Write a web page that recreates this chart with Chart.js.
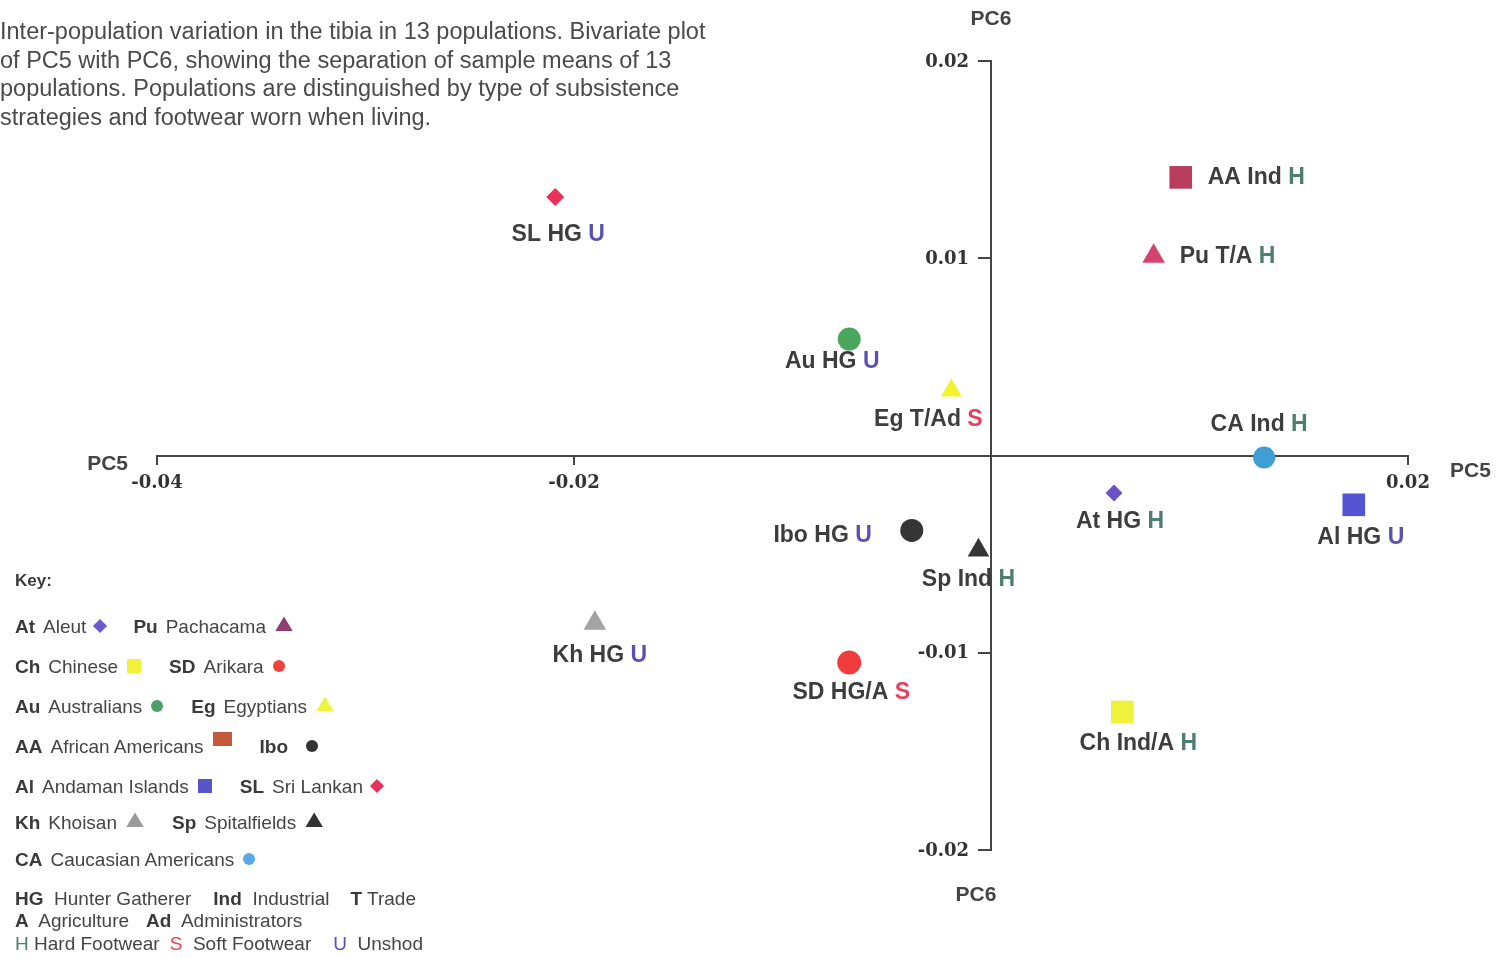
<!DOCTYPE html>
<html>
<head>
<meta charset="utf-8">
<script src="https://cdn.jsdelivr.net/npm/chart.js@4.4.1/dist/chart.umd.min.js"></script>
<style>
  body { margin: 0; background: #fff; }
  #wrap { position: relative; width: 1501px; height: 958px; overflow: hidden; background: #fff; }
  #chart { position: absolute; left: 0; top: 0; }
  #caption {
    position: absolute; left: 0; top: 17px;
    font: 23.5px "Liberation Sans", Arial, sans-serif;
    line-height: 28.5px; color: #4a4a4a; white-space: nowrap;
  }
  #key { position: absolute; left: 15px; top: 0; font: 19px "Liberation Sans", Arial, sans-serif; color: #454545; }
  .row { position: absolute; left: 0; white-space: nowrap; height: 22px; line-height: 22px; }
  .row b { font-weight: bold; color: #3a3a3a; }
  .mk { display: inline-block; vertical-align: middle; position: relative; top: -2px; }
  .gap { display: inline-block; }
</style>
</head>
<body>
<div id="wrap">
  <canvas id="chart" width="1501" height="958"></canvas>
  <div id="caption">
    Inter-population variation in the tibia in 13 populations. Bivariate plot<br>
    of PC5 with PC6, showing the separation of sample means of 13<br>
    populations. Populations are distinguished by type of subsistence<br>
    strategies and footwear worn when living.
  </div>
  <div id="key"></div>
</div>
<script>
// population means on PC5 / PC6
const codes = ['SL', 'AA', 'Pu', 'Au', 'Eg', 'CA', 'At', 'Al', 'Ibo', 'Sp', 'Kh', 'SD', 'Ch'];
const pc5 = [-0.0209, 0.0091, 0.0078, -0.0068, -0.0019, 0.0131, 0.0059, 0.0174, -0.0038, -0.0006, -0.0190, -0.0068, 0.0063];
const pc6 = [0.0131, 0.0141, 0.0101, 0.0059, 0.0033, -0.0001, -0.0019, -0.0025, -0.0038, -0.0048, -0.0085, -0.0105, -0.0130];
const economy = ['HG', 'Ind', 'T/A', 'HG', 'T/Ad', 'Ind', 'HG', 'HG', 'HG', 'Ind', 'HG', 'HG/A', 'Ind/A'];
const footwear = ['U', 'H', 'H', 'U', 'S', 'H', 'H', 'U', 'U', 'H', 'U', 'S', 'H'];

const xTicks = [-0.04, -0.02, 0.02];
const yTicks = [-0.02, -0.01, 0.01, 0.02];

const keyRows = [
  [['At', 'Aleut'], ['Pu', 'Pachacama']],
  [['Ch', 'Chinese'], ['SD', 'Arikara']],
  [['Au', 'Australians'], ['Eg', 'Egyptians']],
  [['AA', 'African Americans'], ['Ibo', '']],
  [['Al', 'Andaman Islands'], ['SL', 'Sri Lankan']],
  [['Kh', 'Khoisan'], ['Sp', 'Spitalfields']],
  [['CA', 'Caucasian Americans']]
];

// styles
const markStyle = {
  SL:  {shape: 'rectRot',  r: 9,    color: '#e8325c', key: '#e8325c'},
  AA:  {shape: 'rect',     r: 16,   color: '#b73c5e', key: '#c45a3c'},
  Pu:  {shape: 'triangle', r: 13,   color: '#d2436f', key: '#8c3f70'},
  Au:  {shape: 'circle',   r: 11.5, color: '#4aa65c', key: '#4aa065'},
  Eg:  {shape: 'triangle', r: 12,   color: '#f2f22e', key: '#eef540'},
  CA:  {shape: 'circle',   r: 11,   color: '#3f9fd4', key: '#5aa8e6'},
  At:  {shape: 'rectRot',  r: 8.5,  color: '#6b52c9', key: '#6b5ad0'},
  Al:  {shape: 'rect',     r: 16,   color: '#5454d2', key: '#5656c8'},
  Ibo: {shape: 'circle',   r: 11.5, color: '#353535', key: '#333333'},
  Sp:  {shape: 'triangle', r: 12.5, color: '#353535', key: '#333333'},
  Kh:  {shape: 'triangle', r: 13,   color: '#a3a3a3', key: '#999999'},
  SD:  {shape: 'circle',   r: 12,   color: '#f03c3c', key: '#f04040'},
  Ch:  {shape: 'rect',     r: 16,   color: '#eef23a', key: '#f2f23a'}
};
const footColor = {H: '#4f7d6e', U: '#5a50b4', S: '#e8405a'};
// label placement relative to each marker: [align, dx, dy]
const labelPlace = {
  SL: ['center', 3, 38], AA: ['left', 27, 0], Pu: ['left', 26, 0], Au: ['center', -17, 23],
  Eg: ['center', -23, 29], CA: ['center', -5, -33], At: ['center', 6, 29], Al: ['center', 7, 33],
  Ibo: ['right', -40, 5], Sp: ['center', -10, 29], Kh: ['center', 5, 32], SD: ['center', 2, 30],
  Ch: ['center', 16, 32]
};

// key (legend) built from the arrays above
function keyMarker(code) {
  const s = markStyle[code];
  const el = document.createElement('span');
  el.className = 'mk';
  el.style.background = s.key;
  if (s.shape === 'circle') { el.style.width = '12px'; el.style.height = '12px'; el.style.borderRadius = '50%'; }
  else if (s.shape === 'rect') {
    el.style.width = code === 'AA' ? '19px' : '14px';
    el.style.height = '14px';
    if (code === 'AA') el.style.top = '-9px';
  }
  else if (s.shape === 'rectRot') { el.style.width = '10px'; el.style.height = '10px'; el.style.transform = 'rotate(45deg)'; }
  else { el.style.width = '18px'; el.style.height = '15px'; el.style.clipPath = 'polygon(50% 0, 100% 100%, 0 100%)'; el.style.top = '-4px'; }
  return el;
}
const keyEl = document.getElementById('key');
const rowY = [627, 667, 707, 747, 787, 823, 860];
const head = document.createElement('div');
head.className = 'row'; head.style.top = (580 - 11) + 'px';
head.innerHTML = '<b style="font-size:17px">Key:</b>';
keyEl.appendChild(head);
keyRows.forEach((row, r) => {
  const div = document.createElement('div');
  div.className = 'row';
  div.style.top = (rowY[r] - 11) + 'px';
  row.forEach(([code, name]) => {
    const b = document.createElement('b');
    b.textContent = code;
    div.appendChild(b);
    const t = document.createElement('span');
    t.textContent = name;
    t.style.marginLeft = name ? '8px' : '0';
    div.appendChild(t);
    const m = keyMarker(code);
    m.style.marginLeft = name ? '9px' : '18px';
    m.style.marginRight = '28px';
    div.appendChild(m);
  });
  keyEl.appendChild(div);
});
const extraRows = [
  [899, '<b>HG</b>&nbsp; Hunter Gatherer<span class="gap" style="width:22px"></span><b>Ind</b>&nbsp; Industrial<span class="gap" style="width:21px"></span><b>T</b> Trade'],
  [921, '<b>A</b>&nbsp; Agriculture<span class="gap" style="width:17px"></span><b>Ad</b>&nbsp; Administrators'],
  [944, '<span style="color:' + footColor.H + '">H</span> Hard Footwear<span class="gap" style="width:10px"></span><span style="color:' + footColor.S + '">S</span>&nbsp; Soft Footwear<span class="gap" style="width:22px"></span><span style="color:' + footColor.U + '">U</span>&nbsp; Unshod']
];
extraRows.forEach(([y, html]) => {
  const div = document.createElement('div');
  div.className = 'row';
  div.style.top = (y - 11) + 'px';
  div.innerHTML = html;
  keyEl.appendChild(div);
});

const tickFont = {family: '"DejaVu Serif", "Liberation Serif", serif', weight: 'bold', size: 18};

// point labels, y tick labels and axis titles
const annotate = {
  id: 'annotate',
  afterDatasetsDraw(chart) {
    const ctx = chart.ctx;
    const xs = chart.scales.x, ys = chart.scales.y;
    const x0 = xs.getPixelForValue(0), y0 = ys.getPixelForValue(0);
    ctx.save();
    ctx.textBaseline = 'middle';
    ctx.font = 'bold 23px "Liberation Sans", Arial, sans-serif';
    codes.forEach((c, i) => {
      const pt = chart.getDatasetMeta(i).data[0];
      const [align, dx, dy] = labelPlace[c];
      const main = c + ' ' + economy[i] + ' ';
      const w1 = ctx.measureText(main).width;
      const w = w1 + ctx.measureText(footwear[i]).width;
      let lx = pt.x + dx;
      if (align === 'center') lx -= w / 2;
      else if (align === 'right') lx -= w;
      const y = pt.y + dy;
      ctx.textAlign = 'left';
      ctx.fillStyle = '#3d3d3d';
      ctx.fillText(main, lx, y);
      ctx.fillStyle = footColor[footwear[i]];
      ctx.fillText(footwear[i], lx + w1, y);
    });
    // y tick labels, left of the tick marks
    ctx.font = 'bold ' + tickFont.size + 'px ' + tickFont.family;
    ctx.fillStyle = '#333';
    ctx.textAlign = 'right';
    yTicks.forEach(v => ctx.fillText(v.toFixed(2), x0 - 22, ys.getPixelForValue(v) + 1));
    // axis titles
    ctx.font = 'bold 21px "Liberation Sans", Arial, sans-serif';
    ctx.fillStyle = '#444';
    ctx.textAlign = 'right';
    ctx.fillText('PC5', xs.left - 29, y0 + 9);
    ctx.textAlign = 'left';
    ctx.fillText('PC5', xs.right + 42, y0 + 16);
    ctx.textAlign = 'center';
    ctx.fillText('PC6', x0, ys.top - 42);
    ctx.fillText('PC6', x0 - 15, ys.bottom + 45);
    ctx.restore();
  }
};

new Chart(document.getElementById('chart'), {
  type: 'scatter',
  data: {
    datasets: codes.map((c, i) => ({
      label: c,
      data: [{x: pc5[i], y: pc6[i]}],
      pointStyle: markStyle[c].shape,
      pointRadius: markStyle[c].r,
      pointHoverRadius: markStyle[c].r,
      backgroundColor: markStyle[c].color,
      borderColor: markStyle[c].color,
      borderWidth: 0
    }))
  },
  options: {
    responsive: false,
    animation: false,
    layout: {padding: {left: 157, top: 61, right: 93, bottom: 108}},
    plugins: {legend: {display: false}, tooltip: {enabled: false}},
    scales: {
      x: {
        type: 'linear', position: {y: 0}, min: -0.04, max: 0.02,
        afterBuildTicks: s => { s.ticks = xTicks.map(v => ({value: v})); },
        ticks: {callback: v => v.toFixed(2), font: tickFont, color: '#333', padding: 9, maxRotation: 0, autoSkip: false},
        grid: {drawOnChartArea: false, drawTicks: true, tickLength: 8, color: '#444', lineWidth: 2},
        border: {display: true, color: '#444', width: 2}
      },
      y: {
        type: 'linear', position: {x: 0}, min: -0.02, max: 0.02,
        afterBuildTicks: s => { s.ticks = yTicks.map(v => ({value: v})); },
        ticks: {display: false},
        grid: {drawOnChartArea: false, drawTicks: true, tickLength: 12, color: '#444', lineWidth: 2},
        border: {display: true, color: '#444', width: 2}
      }
    }
  },
  plugins: [annotate]
});
</script>
</body>
</html>
